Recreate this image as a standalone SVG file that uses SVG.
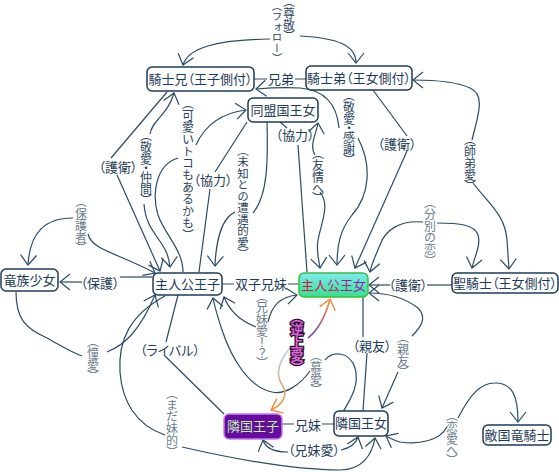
<svg xmlns="http://www.w3.org/2000/svg" width="559" height="472" viewBox="0 0 559 472">
<style>
.n rect{fill:#fff;stroke:#1d3b58;stroke-width:1.5}
.n text,.lh{font-family:"Noto Sans CJK JP","Noto Sans",sans-serif;font-size:13px;fill:#1d3b58;text-anchor:middle;font-feature-settings:"palt"}
.e path{fill:none;stroke:#2b4a66;stroke-width:1.2}
.a{marker-end:url(#ah)}
.lv{font-family:"Noto Sans CJK JP","Noto Sans",sans-serif;writing-mode:vertical-rl;font-size:12px;text-anchor:middle;font-feature-settings:"vpal";fill:#2b4560}
.nv{font-feature-settings:normal}
.g{fill:#6c7c8c}
</style>
<defs>
<marker id="ah" viewBox="-12 -9 13 18" refX="0" refY="0" markerWidth="13" markerHeight="18" markerUnits="userSpaceOnUse" orient="auto" overflow="visible">
<path d="M-10,-8 L0,0 L-10,8" fill="none" stroke="#2b4a66" stroke-width="1.2"/>
</marker>
<marker id="ao" viewBox="-12 -9 13 18" refX="0" refY="0" markerWidth="13" markerHeight="18" markerUnits="userSpaceOnUse" orient="auto" overflow="visible">
<path d="M-10,-8 L0,0 L-10,8" fill="none" stroke="#f08a3a" stroke-width="1.4"/>
</marker>
<linearGradient id="gUp" gradientUnits="userSpaceOnUse" x1="308" y1="338" x2="330" y2="299">
<stop offset="0" stop-color="#6a3cc0"/><stop offset="1" stop-color="#f5902a"/>
</linearGradient>
<linearGradient id="gDn" gradientUnits="userSpaceOnUse" x1="290" y1="348" x2="271" y2="410">
<stop offset="0" stop-color="#a8dcf4"/><stop offset="1" stop-color="#f5902a"/>
</linearGradient>
<linearGradient id="gFill" x1="0" y1="0" x2="0" y2="1">
<stop offset="0" stop-color="#80eaf2"/><stop offset="1" stop-color="#34e08c"/>
</linearGradient>
<linearGradient id="gTxt" x1="0" y1="0" x2="1" y2="0">
<stop offset="0" stop-color="#e01030"/><stop offset="0.45" stop-color="#c01870"/><stop offset="1" stop-color="#8a20b0"/>
</linearGradient>
</defs>
<rect width="559" height="472" fill="#fff"/>

<g id="connectors" class="e">
<path class="a" d="M270,39 C215,40 188,48 183,65"/>
<path class="a" d="M300,36 C337,38 356,45 356,63"/>
<path d="M254,79 L267,79 M295,79 L306,79"/>
<path class="a" d="M472,140 C478,115 486,95 470,88 C455,81 430,80 413,80"/>
<path class="a" d="M473,183 C490,205 505,215 507,240 L509,269"/>
<path d="M373,90 L407,136"/>
<path class="a" d="M407,151 L355,268"/>
<path class="a" d="M339,128 C337,105 325,90 300,88 C280,87 268,88 256,89"/>
<path class="a" d="M358,138 C372,165 370,195 352,215 C340,230 337,245 337,265"/>
<path class="a" d="M315,155 C309,145 316,135 318,123"/>
<path class="a" d="M320,192 C330,205 322,220 318,240 C316,252 319,260 320,268"/>
<path d="M280,122 L287,128 M298,145 L307,272"/>
<path d="M247,122 L215,172 M210,189 L199,272"/>
<path d="M183,272 C183,250 165,235 158,215 C152,195 155,165 178,158"/>
<path class="a" d="M196,145 C205,125 222,113 246,110"/>
<path d="M267,122 C268,160 268,195 253,213"/>
<path class="a" d="M235,212 C222,218 216,240 215,266"/>
<path d="M167,92 L111,158"/>
<path class="a" d="M117,175 L160,271"/>
<path class="a" d="M150,134 C152,120 168,115 174,93"/>
<path class="a" d="M144,204 C146,235 168,240 170,267"/>
<path class="a" d="M73,218 C45,218 30,232 28,265"/>
<path class="a" d="M88,234 C92,250 115,252 155,273"/>
<path d="M152,277 L120,277"/>
<path class="a" d="M82,282 L60,282"/>
<path d="M16,292 C16,318 25,328 45,337 C60,345 70,352 82,356"/>
<path class="a" d="M107,352 C125,345 140,330 155,295"/>
<path d="M178,295 L166,342 M165,356 L224,414"/>
<path d="M165,296 C130,315 118,340 120,372 C122,400 135,425 165,435"/>
<path class="a" d="M182,447 C230,458 290,470 340,470 C362,470 372,455 375,438"/>
<path class="a" d="M256,327 C243,322 230,312 224,297"/>
<path class="a" d="M268,322 C272,305 280,297 297,295"/>
<path class="a" d="M310,371 C300,385 285,395 272,392 C250,388 232,360 222,330 C218,318 215,308 213,298"/>
<path d="M325,360 C333,350 350,352 355,368 C360,385 350,400 343,412"/>
<path d="M308,338 C318,330 325,318 330,299" style="stroke:url(#gUp);stroke-width:1.6;marker-end:url(#ao)"/>
<path d="M290,348 C280,360 275,372 281,383 C290,395 282,405 271,410" style="stroke:url(#gDn);stroke-width:1.6;marker-end:url(#ao)"/>
<path d="M363,297 L363,337 M367,353 L363,411"/>
<path class="a" d="M412,336 C420,328 428,318 418,308 C405,298 390,293 369,293"/>
<path class="a" d="M398,372 L382,408"/>
<path class="a" d="M288,452 C277,452 266,450 263,440"/>
<path class="a" d="M341,450 C350,448 356,443 358,437"/>
<path d="M282,424 L294,424 M322,424 L334,424"/>
<path class="a" d="M447,427 C440,440 420,445 400,442 C393,440 390,438 386,436"/>
<path class="a" d="M458,418 C470,395 480,383 495,383 C512,383 518,395 518,422"/>
<path class="a" d="M423,222 C400,220 385,230 380,245 C376,255 372,262 370,272"/>
<path class="a" d="M437,223 C460,223 475,225 478,235 C481,245 475,255 472,268"/>
<path d="M222,284 L234,284 M288,284 L299,284"/>
<path d="M452,285 L427,285"/>
<path class="a" d="M390,285 L369,285"/>
</g>

<g id="labels">
<text class="lh" x="281" y="84">兄弟</text>
<text class="lh" x="261" y="289">双子兄妹</text>
<text class="lh" x="308" y="430">兄妹</text>
<text class="lh" x="118" y="172">（護衛）</text>
<text class="lh" x="213" y="185">（協力）</text>
<text class="lh" x="295" y="140">（協力）</text>
<text class="lh" x="397" y="149">（護衛）</text>
<text class="lh" x="100" y="288">（保護）</text>
<text class="lh" x="408" y="290">（護衛）</text>
<text class="lh" x="170" y="355">（ライバル）</text>
<text class="lh" x="372" y="351">（親友）</text>
<text class="lh" x="314" y="455">（兄妹愛）</text>
<text class="lv" x="289" y="19">（尊敬）</text>
<text class="lv nv" x="277" y="32" style="font-size:10.5px">（フォロー）</text>
<text class="lv nv" x="188" y="169">（可愛いトコもあるかも）</text>
<text class="lv" x="146" y="168">（敬愛・仲間）</text>
<text class="lv nv" x="243" y="202" style="font-size:11.5px">（未知との遭遇的愛）</text>
<text class="lv" x="318" y="176">（友情へ）</text>
<text class="lv" x="349" y="128">（敬愛・感謝）</text>
<text class="lv" x="470" y="163">（師弟愛）</text>
<text class="lv g" x="430" y="232">（分別の恋）</text>
<text class="lv g" x="81" y="225">（保護者）</text>
<text class="lv g" x="93" y="359">（憧愛）</text>
<text class="lv g" x="262" y="330">（兄妹愛！？）</text>
<text class="lv g" x="172" y="423">（まだ妹的）</text>
<text class="lv g" x="316" y="373">（慕愛）</text>
<text class="lv g" x="403" y="355">（親友）</text>
<text class="lv g" x="452" y="438">（恋愛へ）</text>
<text class="lv" x="297" y="342" style="font-weight:bold;font-size:13px;fill:#d868d8;stroke:#2a0a2a;stroke-width:2.5;paint-order:stroke">（逆上愛）</text>
</g>

<g id="n_kishi_ani" class="n"><rect x="147" y="67" width="107" height="24" rx="5"/><text x="200.5" y="84">騎士兄（王子側付）</text></g>
<g id="n_kishi_otouto" class="n"><rect x="306" y="66" width="106" height="24" rx="5"/><text x="359" y="83">騎士弟（王女側付）</text></g>
<g id="n_doumei" class="n"><rect x="248" y="98" width="70" height="24" rx="5"/><text x="283" y="115">同盟国王女</text></g>
<g id="n_ryuzoku" class="n"><rect x="1" y="269" width="57" height="22" rx="5"/><text x="29.5" y="285">竜族少女</text></g>
<g id="n_ouji" class="n"><rect x="153" y="273" width="69" height="22" rx="5"/><text x="187.5" y="289">主人公王子</text></g>
<g id="n_oujo" class="n"><rect x="299" y="273" width="69" height="24" rx="5" style="fill:url(#gFill);stroke:#3ac03a"/><text x="333.5" y="290" style="fill:url(#gTxt)">主人公王女</text></g>
<g id="n_seikishi" class="n"><rect x="452" y="273" width="106" height="20" rx="5"/><text x="505" y="288">聖騎士（王女側付）</text></g>
<g id="n_rinkoku_ouji" class="n"><rect x="224" y="414" width="58" height="25" rx="5" style="fill:#6a0aa2;stroke:#c080f0"/><text x="253" y="431" style="fill:#d8d8e6;stroke:#3a3050;stroke-width:1;paint-order:stroke">隣国王子</text></g>
<g id="n_rinkoku_oujo" class="n"><rect x="334" y="411" width="54" height="25" rx="5"/><text x="361" y="428">隣国王女</text></g>
<g id="n_tekikoku" class="n"><rect x="483" y="425" width="68" height="20" rx="5"/><text x="517" y="440">敵国竜騎士</text></g>
</svg>
